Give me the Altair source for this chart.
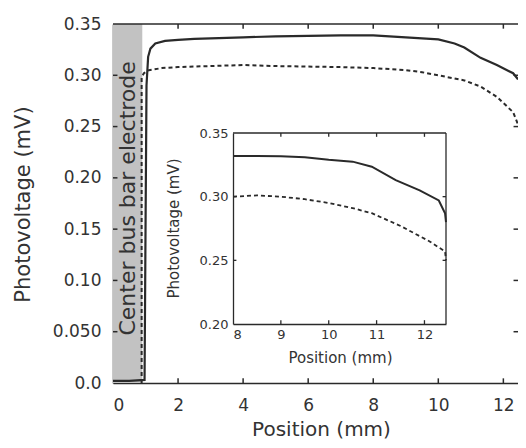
import altair as alt
import pandas as pd

# ---------------- data ----------------
main_solid_x = [0.0, 0.5, 0.97, 1.0, 1.03, 1.08, 1.15, 1.3, 1.6, 2.0, 2.5, 3.0, 4.0, 5.0, 6.0, 7.0, 8.0, 9.0,
                9.5, 10.0, 10.5, 10.8, 11.3, 11.8, 12.3, 12.45]
main_solid_y = [0.002, 0.002, 0.003, 0.15, 0.29, 0.318, 0.326, 0.331, 0.3335, 0.3345, 0.3355, 0.336, 0.337,
                0.338, 0.3385, 0.339, 0.339, 0.337, 0.336, 0.335, 0.331, 0.327, 0.317, 0.310, 0.302, 0.296]

main_dash_x = [0.88, 0.88, 0.95, 1.1, 1.5, 2.0, 3.0, 4.0, 5.0, 6.0, 7.0, 8.0, 9.0, 9.5, 10.0, 10.8, 11.3,
               11.8, 12.3, 12.45]
main_dash_y = [0.0, 0.298, 0.302, 0.305, 0.307, 0.308, 0.309, 0.310, 0.309, 0.3085, 0.308, 0.307, 0.305,
               0.303, 0.300, 0.295, 0.289, 0.279, 0.264, 0.252]

inset_solid_x = [8.0, 8.5, 9.0, 9.5, 10.0, 10.5, 10.9, 11.4, 11.9, 12.3, 12.43, 12.45]
inset_solid_y = [0.332, 0.332, 0.3318, 0.331, 0.329, 0.3275, 0.3235, 0.313, 0.305, 0.297, 0.287, 0.280]

inset_dash_x = [8.0, 8.5, 9.0, 9.5, 10.0, 10.5, 10.9, 11.5, 12.1, 12.43, 12.45]
inset_dash_y = [0.300, 0.301, 0.300, 0.298, 0.295, 0.291, 0.287, 0.277, 0.265, 0.257, 0.250]

band_start, band_end = 0.0, 0.9
band_label = "Center bus bar electrode"
band_label_y = 0.18

x_ticks = [0, 2, 4, 6, 8, 10, 12]
y_ticks = [0.0, 0.05, 0.10, 0.15, 0.20, 0.25, 0.30, 0.35]
inset_x_ticks = [8, 9, 10, 11, 12]
inset_y_ticks = [0.20, 0.25, 0.30, 0.35]

x_domain = [0, 12.45]
y_domain = [0, 0.35]
inset_x_domain = [8, 12.45]
inset_y_domain = [0.20, 0.35]

# ---------------- styling ----------------
FONT = "DejaVu Sans"
INK = "#2a2a2a"
LABEL = "#333333"
W, H = 405, 359

xs = alt.Scale(domain=x_domain, nice=False, zero=False)
ys = alt.Scale(domain=y_domain, nice=False, zero=False)
ixs = alt.Scale(domain=inset_x_domain, range=[120, 333], nice=False, zero=False)
iys = alt.Scale(domain=inset_y_domain, range=[300, 109], nice=False, zero=False)


def series(xv, yv):
    return pd.DataFrame({"x": xv, "y": yv, "o": list(range(len(xv)))})


y_label_expr = ("datum.value == 0 ? '0.0' : (abs(datum.value - 0.05) < 1e-9 ? '0.050' : "
                "format(datum.value, '.2f'))")

main_x_axis = alt.Axis(
    values=x_ticks, format="d", title="Position  (mm)", grid=False, ticks=False,
    labelFont=FONT, labelFontSize=17, labelColor=LABEL, labelPadding=14,
    titleFont=FONT, titleFontSize=20, titleFontWeight="normal", titleColor=LABEL,
    titleX=208, titleY=46, titleBaseline="middle",
    domainColor=INK, domainWidth=1.5, orient="bottom")
main_y_axis = alt.Axis(
    values=y_ticks, labelExpr=y_label_expr, title="Photovoltage  (mV)", grid=False, ticks=False,
    labelFont=FONT, labelFontSize=17, labelColor=LABEL, labelPadding=12,
    titleFont=FONT, titleFontSize=21, titleFontWeight="normal", titleColor=LABEL,
    titleX=-90, titleY=180, titleBaseline="middle", titleAlign="center",
    domainColor=INK, domainWidth=1.5, orient="left")

# ---------------- main panel ----------------
band = alt.Chart(pd.DataFrame({"x": [band_start], "x2": [band_end],
                               "y": [y_domain[0]], "y2": [y_domain[1]]})).mark_rect(
    color="#c2c2c2").encode(
    x=alt.X("x:Q", scale=xs, axis=main_x_axis), x2="x2:Q",
    y=alt.Y("y:Q", scale=ys, axis=main_y_axis), y2="y2:Q")

band_text = alt.Chart(pd.DataFrame({"x": [(band_start + band_end) / 2],
                                    "y": [band_label_y],
                                    "t": [band_label]})).mark_text(
    angle=270, font=FONT, fontSize=22, color="#333333", align="center", baseline="middle").encode(
    x=alt.X("x:Q", scale=xs), y=alt.Y("y:Q", scale=ys), text="t:N")

xr = x_domain[1] - x_domain[0]
yr = y_domain[1] - y_domain[0]
tick_rows = []
for v in x_ticks[1:]:
    tick_rows.append({"x": v, "x2": v, "y": y_domain[0], "y2": y_domain[0] + yr * 0.013})
    tick_rows.append({"x": v, "x2": v, "y": y_domain[1], "y2": y_domain[1] - yr * 0.013})
for v in y_ticks[1:-1]:
    tick_rows.append({"x": x_domain[0], "x2": x_domain[0] + xr * 0.011, "y": v, "y2": v})
    tick_rows.append({"x": x_domain[1] - xr * 0.011, "x2": x_domain[1], "y": v, "y2": v})
tick_rows.append({"x": x_domain[0], "x2": x_domain[1], "y": y_domain[1], "y2": y_domain[1]})
main_ticks = alt.Chart(pd.DataFrame(tick_rows)).mark_rule(color=INK, strokeWidth=1.5).encode(
    x=alt.X("x:Q", scale=xs), x2="x2:Q",
    y=alt.Y("y:Q", scale=ys), y2="y2:Q")

main_solid = alt.Chart(series(main_solid_x, main_solid_y)).mark_line(
    color=INK, strokeWidth=2.2).encode(
    x=alt.X("x:Q", scale=xs), y=alt.Y("y:Q", scale=ys), order="o:Q")

main_dash = alt.Chart(series(main_dash_x, main_dash_y)).mark_line(
    color=INK, strokeWidth=2.0, strokeDash=[4, 3]).encode(
    x=alt.X("x:Q", scale=xs), y=alt.Y("y:Q", scale=ys), order="o:Q")

main = alt.layer(band, band_text, main_ticks, main_solid, main_dash)

# ---------------- inset ----------------
inset_x_axis = alt.Axis(
    values=inset_x_ticks, format="d", title="Position  (mm)", grid=False, ticks=False,
    labelFont=FONT, labelFontSize=13, labelColor=LABEL, labelPadding=4,
    titleFont=FONT, titleFontSize=15, titleFontWeight="normal", titleColor=LABEL,
    titleX=227, titleY=33, titleBaseline="middle",
    domainColor=INK, domainWidth=1.3, orient="bottom", offset=-59)
inset_y_axis = alt.Axis(
    values=inset_y_ticks, format=".2f", title="Photovoltage  (mV)", grid=False, ticks=False,
    labelFont=FONT, labelFontSize=13, labelColor=LABEL, labelPadding=5,
    titleFont=FONT, titleFontSize=15, titleFontWeight="normal", titleColor=LABEL,
    titleX=-60, titleY=204, titleBaseline="middle", titleAlign="center",
    domainColor=INK, domainWidth=1.3, orient="left", offset=-120)

ixr = inset_x_domain[1] - inset_x_domain[0]
iyr = inset_y_domain[1] - inset_y_domain[0]
irows = []
for v in inset_x_ticks[1:]:
    irows.append({"x": v, "x2": v, "y": inset_y_domain[0], "y2": inset_y_domain[0] + iyr * 0.02})
    irows.append({"x": v, "x2": v, "y": inset_y_domain[1], "y2": inset_y_domain[1] - iyr * 0.02})
for v in inset_y_ticks[1:-1]:
    irows.append({"x": inset_x_domain[0], "x2": inset_x_domain[0] + ixr * 0.016, "y": v, "y2": v})
    irows.append({"x": inset_x_domain[1] - ixr * 0.016, "x2": inset_x_domain[1], "y": v, "y2": v})
irows.append({"x": inset_x_domain[0], "x2": inset_x_domain[1], "y": inset_y_domain[1], "y2": inset_y_domain[1]})
irows.append({"x": inset_x_domain[1], "x2": inset_x_domain[1], "y": inset_y_domain[0], "y2": inset_y_domain[1]})
inset_frame = alt.Chart(pd.DataFrame(irows)).mark_rule(color=INK, strokeWidth=1.3).encode(
    x=alt.X("x:Q", scale=ixs, axis=inset_x_axis), x2="x2:Q",
    y=alt.Y("y:Q", scale=iys, axis=inset_y_axis), y2="y2:Q")

inset_solid = alt.Chart(series(inset_solid_x, inset_solid_y)).mark_line(
    color=INK, strokeWidth=2.0).encode(
    x=alt.X("x:Q", scale=ixs), y=alt.Y("y:Q", scale=iys), order="o:Q")

inset_dash = alt.Chart(series(inset_dash_x, inset_dash_y)).mark_line(
    color=INK, strokeWidth=1.8, strokeDash=[4, 3]).encode(
    x=alt.X("x:Q", scale=ixs), y=alt.Y("y:Q", scale=iys), order="o:Q")

inset = alt.layer(inset_frame, inset_solid, inset_dash)

chart = alt.layer(main, inset).resolve_scale(x="independent", y="independent").properties(
    width=W, height=H,
    autosize=alt.AutoSizeParams(type="none"),
    padding={"left": 105, "top": 16, "right": 0, "bottom": 57},
    background="white",
).configure_view(stroke=None)

chart.save("out.html", embed_options={"renderer": "svg", "actions": False})
